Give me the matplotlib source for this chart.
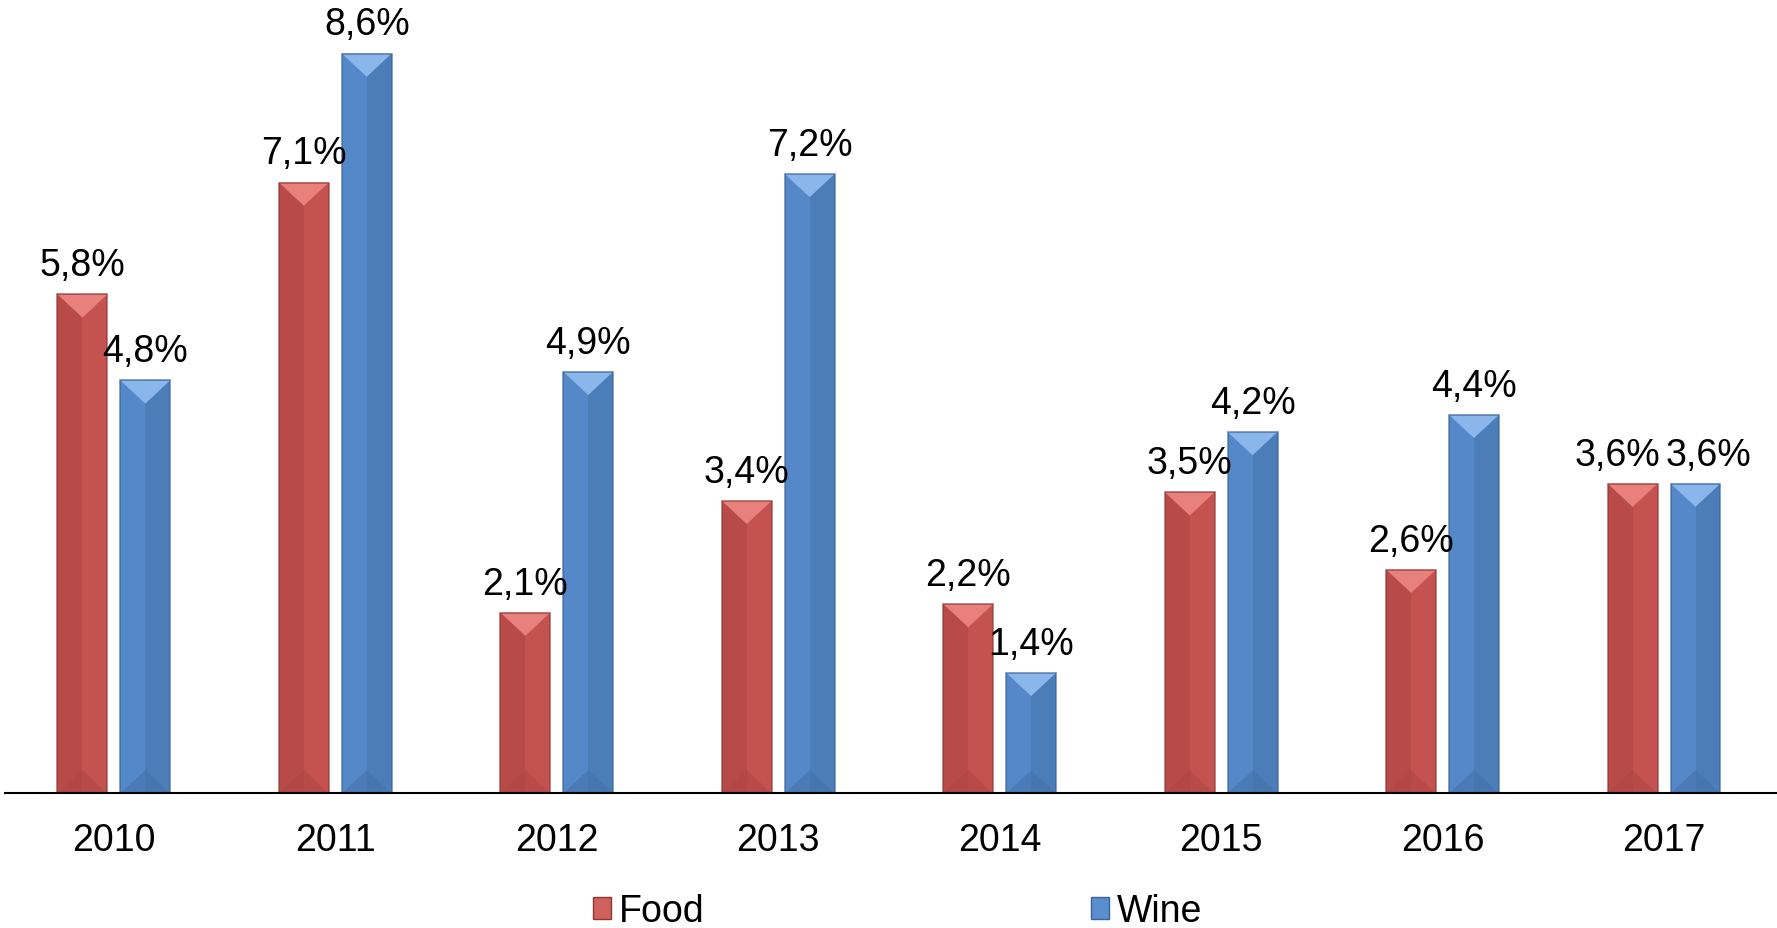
import numpy as np
import matplotlib.pyplot as plt
from matplotlib.patches import Polygon, Patch

years = ['2010', '2011', '2012', '2013', '2014', '2015', '2016', '2017']
food = [5.8, 7.1, 2.1, 3.4, 2.2, 3.5, 2.6, 3.6]
wine = [4.8, 8.6, 4.9, 7.2, 1.4, 4.2, 4.4, 3.6]

plt.rcParams['font.family'] = ['Liberation Sans', 'DejaVu Sans']

fig = plt.figure(figsize=(17.77, 9.29), dpi=100)
ax = fig.add_axes([0.003, 0.145, 0.997, 0.85])
ax.set_xlim(-0.49, 7.51)
ax.set_ylim(0, 9.18)

w = 0.225
off = 0.142
x = np.arange(len(years))

# colours: left half, right half, top bevel, bottom bevel, edge
styles = {
    'food': ('#B84A47', '#C4524F', '#E8807C', '#AE4542', '#8C3836'),
    'wine': ('#5488C8', '#4B7DB8', '#8AB6EC', '#4370A8', '#3A6397'),
}


def bevel_bar(xc, h, st):
    left, right, top, bot, edge = st
    x0, x1 = xc - w / 2, xc + w / 2
    d = 0.27  # bevel depth in data units
    ax.bar(xc - w / 4, h, w / 2, color=left, linewidth=0)
    ax.bar(xc + w / 4, h, w / 2, color=right, linewidth=0)
    dd = min(d, h / 2)
    ax.add_patch(Polygon([(x0, h), (x1, h), (xc, h - dd)], closed=True,
                         facecolor=top, edgecolor='none'))
    ax.add_patch(Polygon([(x0, 0), (x1, 0), (xc, dd)], closed=True,
                         facecolor=bot, edgecolor='none', alpha=0.5))
    ax.add_patch(Polygon([(x0, 0), (x0, h), (x1, h), (x1, 0)], closed=False,
                         facecolor='none', edgecolor=edge, linewidth=1.2,
                         alpha=0.7))


for i in range(len(years)):
    bevel_bar(x[i] - off, food[i], styles['food'])
    bevel_bar(x[i] + off, wine[i], styles['wine'])

lbl_dx = {7: (-0.07, 0.06)}
for i in range(len(years)):
    dfx, dwx = lbl_dx.get(i, (0, 0))
    ax.annotate(f"{food[i]:.1f}%".replace('.', ','), (x[i] - off + dfx, food[i]),
                xytext=(0, 8), textcoords='offset points', ha='center',
                va='bottom', fontsize=27, annotation_clip=False)
    ax.annotate(f"{wine[i]:.1f}%".replace('.', ','), (x[i] + off + dwx, wine[i]),
                xytext=(0, 8), textcoords='offset points', ha='center',
                va='bottom', fontsize=27, annotation_clip=False)

ax.set_xticks(x)
ax.set_xticklabels(years, fontsize=27)
ax.tick_params(axis='x', length=0, pad=21)
ax.set_yticks([])
for s in ['top', 'right', 'left']:
    ax.spines[s].set_visible(False)
ax.spines['bottom'].set_linewidth(1.5)

handles = [Patch(facecolor='#D0605C', edgecolor='#8C3836', label='Food'),
           Patch(facecolor='#5A8ECF', edgecolor='#3A6397', label='Wine')]
fig.legend(handles=handles, loc='center', bbox_to_anchor=(0.505, 0.018),
           ncol=2, frameon=False, fontsize=27, handlelength=0.5,
           handleheight=0.5, handletextpad=0.2, columnspacing=10.3)

fig.savefig('out.png', dpi=100)
